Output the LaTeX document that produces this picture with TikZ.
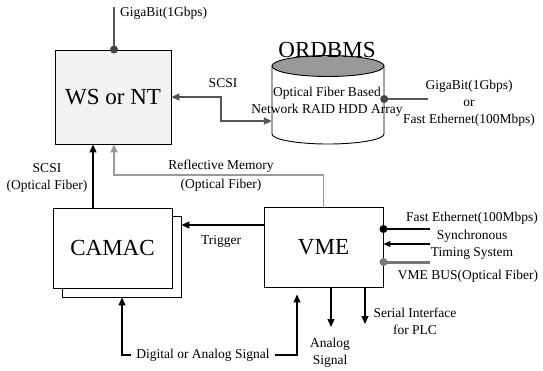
\documentclass[tikz,border=0pt]{standalone}
\usepackage{fontspec}
\setmainfont{Liberation Serif}
\usetikzlibrary{arrows.meta}
\definecolor{wsfill}{HTML}{F2F2F2}
\definecolor{darkg}{HTML}{555555}
\definecolor{midg}{HTML}{999999}
\definecolor{dotg}{HTML}{444444}
\definecolor{busg}{HTML}{777777}
\begin{document}
\begin{tikzpicture}[x=1pt,y=1pt,
  lbl/.style={font=\fontsize{13.5}{17}\selectfont, inner sep=0pt, align=center},
  big/.style={font=\fontsize{23}{26}\selectfont},
  box/.style={draw, line width=0.9pt, fill=white, minimum width=119pt, minimum height=80pt, inner sep=0pt},
  arr/.style={line width=1.1pt, -{Triangle[length=8pt,width=7pt]}},
  plain/.style={line width=1.1pt},
  dotc/.style={fill=dotg}
]
\useasboundingbox (0,0) rectangle (543,-370);

% WS or NT
\node[box, fill=wsfill, minimum width=116pt, minimum height=94pt, big] (ws) at (113,-97) {WS or NT};
\coordinate (gtop) at (114,-7);
\draw[plain, darkg] (gtop) -- (ws.north -| gtop);
\fill[dotc] (ws.north -| gtop) circle (4pt);
\node[lbl, anchor=west] (g1lbl) at (120,-13) {GigaBit(1Gbps)};

% Cylinder
\node[minimum width=112pt, minimum height=88pt, inner sep=0pt] (db) at (328,-100) {};
\draw[line width=0.9pt, fill=white] (272,-66) -- (272,-134) arc[start angle=180, end angle=360, x radius=56pt, y radius=10pt] -- (384,-66);
\draw[line width=0.9pt, fill=midg] (328,-66) ellipse [x radius=56pt, y radius=10.5pt];
\node[big] (ordbms) at (327,-50) {ORDBMS};
\node[lbl] (dbtxt) at (327,-102) {Optical Fiber Based\\Network RAID HDD Array};
\coordinate (dbr) at (428,-99);
\draw[line width=1.6pt, darkg] (db.east |- dbr) -- (dbr);
\fill[dotc] (db.east |- dbr) circle (4pt);
\node[lbl] (dbnet) at (469,-103) {GigaBit(1Gbps)\\or\\Fast Ethernet(100Mbps)};

% SCSI ws <-> db
\coordinate (sbend) at (221,-121);
\draw[line width=1.8pt, darkg, {Triangle[length=8pt,width=7pt]}-{Triangle[length=8pt,width=7pt]}]
  (ws.east) -| (sbend) -- (db.west |- sbend);
\node[lbl] (scsi1) at (223,-83) {SCSI};

% CAMAC
\node[box, minimum width=119pt, minimum height=81pt] (camacb) at (121.5,-256.5) {};
\node[box, minimum width=119pt, minimum height=80pt, big] (camac) at (112.5,-248) {CAMAC};

% VME
\node[box, minimum width=119pt, minimum height=80pt, big] (vme) at (323.5,-247) {VME};

% CAMAC -> WS
\coordinate (xa) at (93,0);
\draw[arr] (camac.north -| xa) -- (ws.south -| xa);
\node[lbl] (scsi2) at (47,-178) {SCSI\\(Optical Fiber)};

% Reflective memory
\coordinate (rm) at (114,-175);
\draw[line width=1.8pt, midg, -{Triangle[length=8pt,width=7pt]}] (vme.north) |- (rm) -- (ws.south -| rm);
\node[lbl] (rm1) at (221,-166) {Reflective Memory};
\node[lbl] (rm2) at (221,-185) {(Optical Fiber)};

% Trigger
\coordinate (ty) at (0,-225);
\draw[arr] (vme.west |- ty) -- (camacb.east |- ty);
\node[lbl] (trig) at (221,-241) {Trigger};

% Digital or Analog Signal
\node[lbl, inner xsep=5.5pt] (dig) at (203,-355) {Digital or Analog Signal};
\coordinate (dl) at (122,-355);
\coordinate (dr) at (297,-355);
\draw[arr] (dig.west) -- (dl) -- (camacb.south -| dl);
\draw[arr] (dig.east) -- (dr) -- ([yshift=-7pt]vme.south -| dr);

% Outputs below VME
\coordinate (a1) at (331,-327);
\coordinate (a2) at (365,-324);
\draw[arr] (vme.south -| a1) -- (a1);
\draw[arr] (vme.south -| a2) -- (a2);
\node[lbl] (anl) at (330,-353) {Analog\\Signal};
\node[lbl] (ser) at (415,-321) {Serial Interface\\for PLC};

% Right side of VME
\coordinate (fe) at (430,-229);
\coordinate (st) at (430,-244);
\coordinate (vb) at (430,-262);
\draw[line width=2pt] (vme.east |- fe) -- (fe);
\fill (vme.east |- fe) circle (4pt);
\draw[line width=1.1pt, -{Triangle[length=7pt,width=6pt]}] (st) -- (vme.east |- st);
\draw[line width=3pt, busg] (vme.east |- vb) -- (vb);
\fill[busg] (vme.east |- vb) circle (4pt);
\node[lbl] (fel) at (472,-218) {Fast Ethernet(100Mbps)};
\node[lbl] (stl) at (472,-245) {Synchronous\\Timing System};
\node[lbl] (vbl) at (468,-276) {VME BUS(Optical Fiber)};
\end{tikzpicture}
\end{document}
